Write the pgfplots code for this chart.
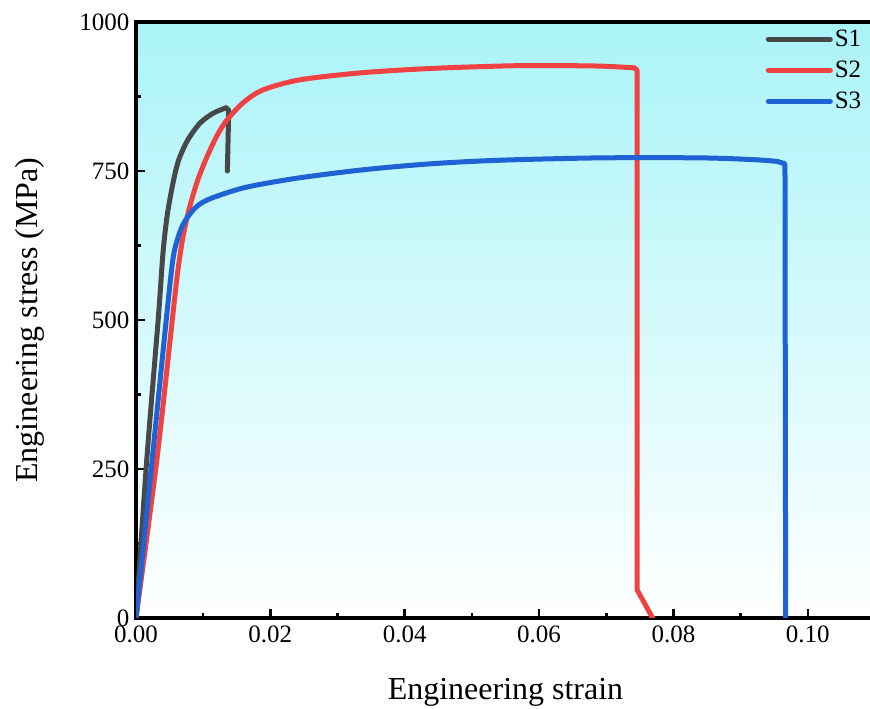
\documentclass[border=0pt]{standalone}
\usepackage{pgfplots}
\pgfplotsset{compat=1.18}
\usepackage{fontspec}
\setmainfont{Liberation Serif}
\definecolor{cS1}{RGB}{72,72,72}
\definecolor{cS2}{RGB}{240,66,66}
\definecolor{cS3}{RGB}{30,98,212}
\definecolor{bgtop}{RGB}{170,244,248}
\begin{document}
\begin{tikzpicture}
\useasboundingbox (0,0) rectangle (870pt,709pt);
\begin{axis}[
  at={(136pt,91pt)}, anchor=south west,
  scale only axis, width=739pt, height=596pt,
  xmin=0, xmax=0.11, ymin=0, ymax=1000,
  axis background/.style={top color=bgtop, middle color=bgtop!45!white, bottom color=white},
  axis line style={line width=3.5pt},
  xtick={0,0.02,0.04,0.06,0.08,0.10},
  ytick={0,250,500,750,1000},
  minor x tick num=1, minor y tick num=1,
  xtick pos=bottom, ytick pos=left,
  tick align=inside,
  major tick length=9pt, minor tick length=5pt,
  every tick/.style={line width=2.5pt, black},
  /pgf/number format/assume math mode=true,
  xticklabel style={/pgf/number format/fixed, /pgf/number format/fixed zerofill, /pgf/number format/precision=2, font=\fontsize{25}{30}\selectfont, yshift=-4pt},
  yticklabel style={/pgf/number format/1000 sep={}, font=\fontsize{25}{30}\selectfont, xshift=-3pt},
  scaled x ticks=false,
  xlabel={Engineering strain},
  ylabel={Engineering stress (MPa)},
  xlabel style={font=\fontsize{32}{38}\selectfont, at={(axis description cs:0.5,-0.124)}, anchor=center},
  ylabel style={font=\fontsize{32}{38}\selectfont, at={(axis description cs:-0.1434,0.5)}, anchor=center},
  legend style={draw=none, fill=none, at={(axis description cs:0.852,0.99)}, anchor=north west,
    font=\fontsize{25}{30}\selectfont, row sep=9pt, inner sep=0pt,
    nodes={inner sep=2pt}},
  legend cell align=left,
  legend image code/.code={\draw[#1] (0pt,0pt) -- (62pt,0pt);},
  clip=true,
]
\draw[line width=3.5pt] (rel axis cs:0,1) -- (rel axis cs:1,1);
% S1
\addplot[cS1, line width=5pt, line join=round, line cap=round, smooth, tension=0.5] coordinates {
(0,0) (0.0016,265) (0.0033,500) (0.0040,610) (0.0046,672) (0.0053,718)
(0.0059,750) (0.0065,773) (0.0077,802) (0.0095,830) (0.0115,847) (0.0134,856)
};
\addlegendentry{S1}
\addplot[cS1, line width=5pt, line join=round, line cap=round, forget plot] coordinates {
(0.0134,856) (0.0138,852) (0.0137,800) (0.0136,750)
};
% S2
\addplot[cS2, line width=5pt, line join=round, line cap=round, smooth, tension=0.5] coordinates {
(0,0) (0.0031,265) (0.0054,500) (0.0062,580) (0.0070,640) (0.0080,690)
(0.0092,735) (0.0105,772) (0.0120,808) (0.0135,835) (0.0160,865)
(0.0189,886) (0.0244,903) (0.0338,915) (0.0438,922) (0.054,926)
(0.060,927) (0.069,926) (0.0742,923)
};
\addlegendentry{S2}
\addplot[cS2, line width=5pt, line join=round, line cap=round, forget plot] coordinates {
(0.0742,923) (0.0746,919) (0.0746,47) (0.0769,0)
};
% S3
\addplot[cS3, line width=5pt, line join=round, line cap=round, smooth, tension=0.5] coordinates {
(0,0) (0.0024,265) (0.0045,500) (0.0055,602) (0.0063,640) (0.0070,660)
(0.0077,673) (0.0088,688) (0.0100,698) (0.0121,708) (0.0165,723)
(0.024,738) (0.0338,752) (0.0438,762) (0.054,768) (0.069,772)
(0.084,772) (0.092,769) (0.0955,766)
};
\addlegendentry{S3}
\addplot[cS3, line width=5pt, line join=round, line cap=round, forget plot] coordinates {
(0.0955,766) (0.0966,762) (0.0967,0)
};
\end{axis}
\end{tikzpicture}
\end{document}
